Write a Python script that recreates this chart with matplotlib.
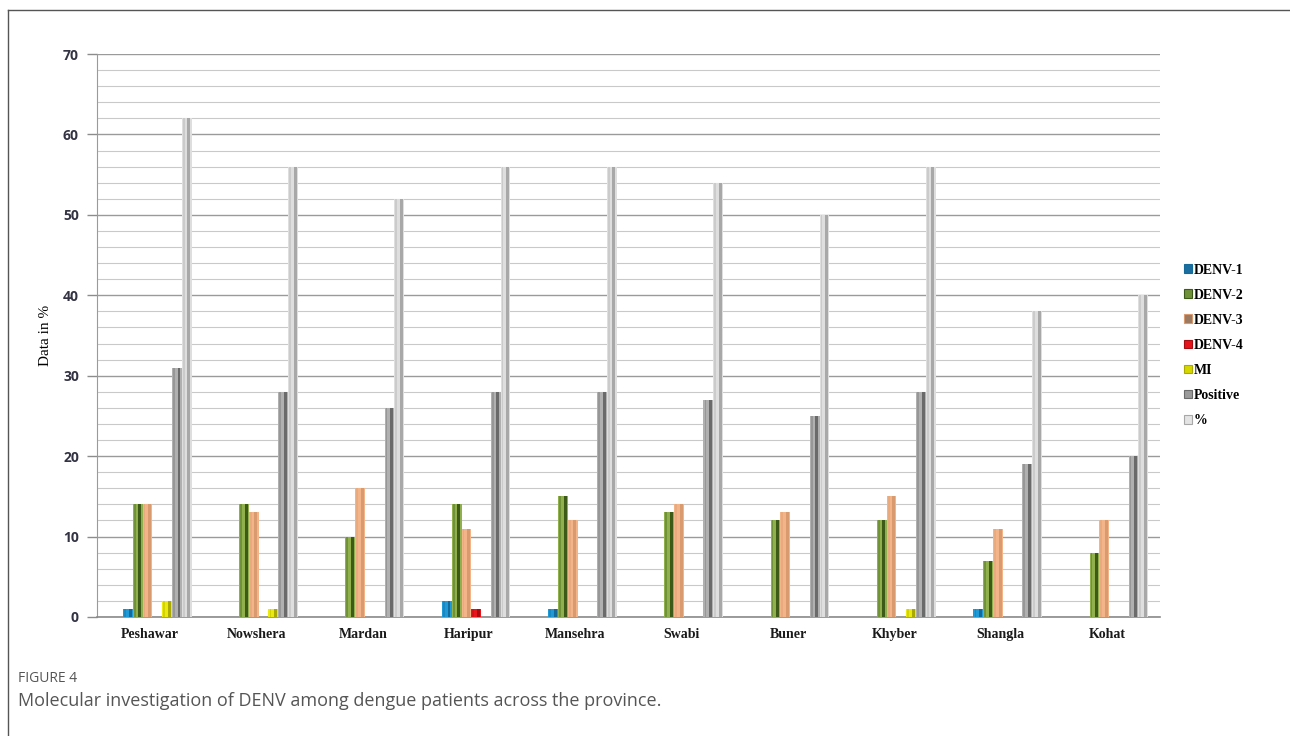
import matplotlib.pyplot as plt
import numpy as np
from matplotlib.lines import Line2D
from matplotlib.patches import Patch
from matplotlib.ticker import MultipleLocator

districts = ["Peshawar", "Nowshera", "Mardan", "Haripur", "Mansehra",
             "Swabi", "Buner", "Khyber", "Shangla", "Kohat"]
denv1 = [1, 0, 0, 2, 1, 0, 0, 0, 1, 0]
denv2 = [14, 14, 10, 14, 15, 13, 12, 12, 7, 8]
denv3 = [14, 13, 16, 11, 12, 14, 13, 15, 11, 12]
denv4 = [0, 0, 0, 1, 0, 0, 0, 0, 0, 0]
mi = [2, 1, 0, 0, 0, 0, 0, 1, 0, 0]
positive = [31, 28, 26, 28, 28, 27, 25, 28, 19, 20]
percent = [62, 56, 52, 56, 56, 54, 50, 56, 38, 40]

series = [("DENV-1", denv1), ("DENV-2", denv2), ("DENV-3", denv3),
          ("DENV-4", denv4), ("MI", mi), ("Positive", positive), ("%", percent)]
# face colour, shade colour (fake 3D cylinder look), legend swatch colour
styles = {
    "DENV-1": ("#1f9ad6", "#166a9a", "#1b6fa0"),
    "DENV-2": ("#8fb04c", "#3e5a18", "#6f9238"),
    "DENV-3": ("#f4b48a", "#d99a70", "#9c7a62"),
    "DENV-4": ("#e8141b", "#a50d12", "#e8141b"),
    "MI": ("#eaea10", "#a9a900", "#d6d600"),
    "Positive": ("#b0b0b0", "#6a6a6a", "#9a9a9a"),
    "%": ("#dedede", "#a8a8a8", "#e4e4e4"),
}

fig = plt.figure(figsize=(12.9, 7.36), dpi=100)
ax = fig.add_axes([97 / 1290, 1 - 617 / 736, 1063 / 1290, 563 / 736])

x = np.arange(len(districts))
w = 0.092
start = -0.255
for j, (name, vals) in enumerate(series):
    face, shade, _ = styles[name]
    xs = x + start + j * w + w / 2
    ax.bar(xs, vals, width=w, color=face, edgecolor="none", zorder=3)
    ax.bar(xs + w * 0.22, vals, width=w * 0.3, color=shade, edgecolor="none", zorder=3)
    ax.bar(xs - w * 0.3, vals, width=w * 0.18, color=shade, alpha=0.35,
           edgecolor="none", zorder=3)

ax.set_xlim(-0.5, len(districts) - 0.5)
ax.set_ylim(0, 70)
ax.yaxis.set_major_locator(MultipleLocator(10))
ax.yaxis.set_minor_locator(MultipleLocator(2))
ax.grid(True, which="major", axis="y", color="#9a9a9a", lw=1.0, zorder=0)
ax.grid(True, which="minor", axis="y", color="#c9c9c9", lw=0.8, zorder=0)
ax.tick_params(axis="y", which="major", length=7, color="#8c8c8c", width=1,
               labelsize=10, labelcolor="#333344", pad=6)
ax.tick_params(axis="y", which="minor", length=0)
ax.tick_params(axis="x", length=0, pad=8)
for lab in ax.get_yticklabels():
    lab.set_fontweight("bold")
    lab.set_family("Open Sans")
ax.set_xticks(x)
ax.set_xticklabels(districts, family="Liberation Serif", fontweight="bold",
                   fontsize=10, color="#1a1a1a")
ax.spines[["top", "right"]].set_visible(False)
ax.spines["left"].set_color("#9a9a9a")
ax.spines["bottom"].set_color("#8a8a8a")
ax.spines["bottom"].set_linewidth(1.2)
ax.set_ylabel("Data in %", family="Liberation Serif", fontsize=11, labelpad=8)

handles = [Patch(facecolor=styles[n][2], edgecolor=styles[n][1], lw=0.8) for n, _ in series]
fig.legend(handles=handles, labels=[s[0] for s in series], loc="upper left",
           bbox_to_anchor=(1178 / 1290, 1 - 258 / 736), frameon=False,
           prop={"family": "Liberation Serif", "weight": "bold", "size": 10},
           handlelength=0.6, handleheight=0.6, handletextpad=0.15,
           labelspacing=0.87, borderaxespad=0)

# frame around the figure panel
fig.add_artist(Line2D([8 / 1290, 8 / 1290], [0, 1 - 10 / 736], color="#555555", lw=1))
fig.add_artist(Line2D([8 / 1290, 1], [1 - 10 / 736, 1 - 10 / 736], color="#555555", lw=1))

fig.text(18 / 1290, 1 - 678 / 736, "FIGURE 4", family="Open Sans", fontsize=10,
         color="#555555", va="center")
fig.text(18 / 1290, 1 - 701 / 736,
         "Molecular investigation of DENV among dengue patients across the province.",
         family="Open Sans", fontsize=13, color="#555555", va="center")

fig.savefig("out.png", dpi=100)
